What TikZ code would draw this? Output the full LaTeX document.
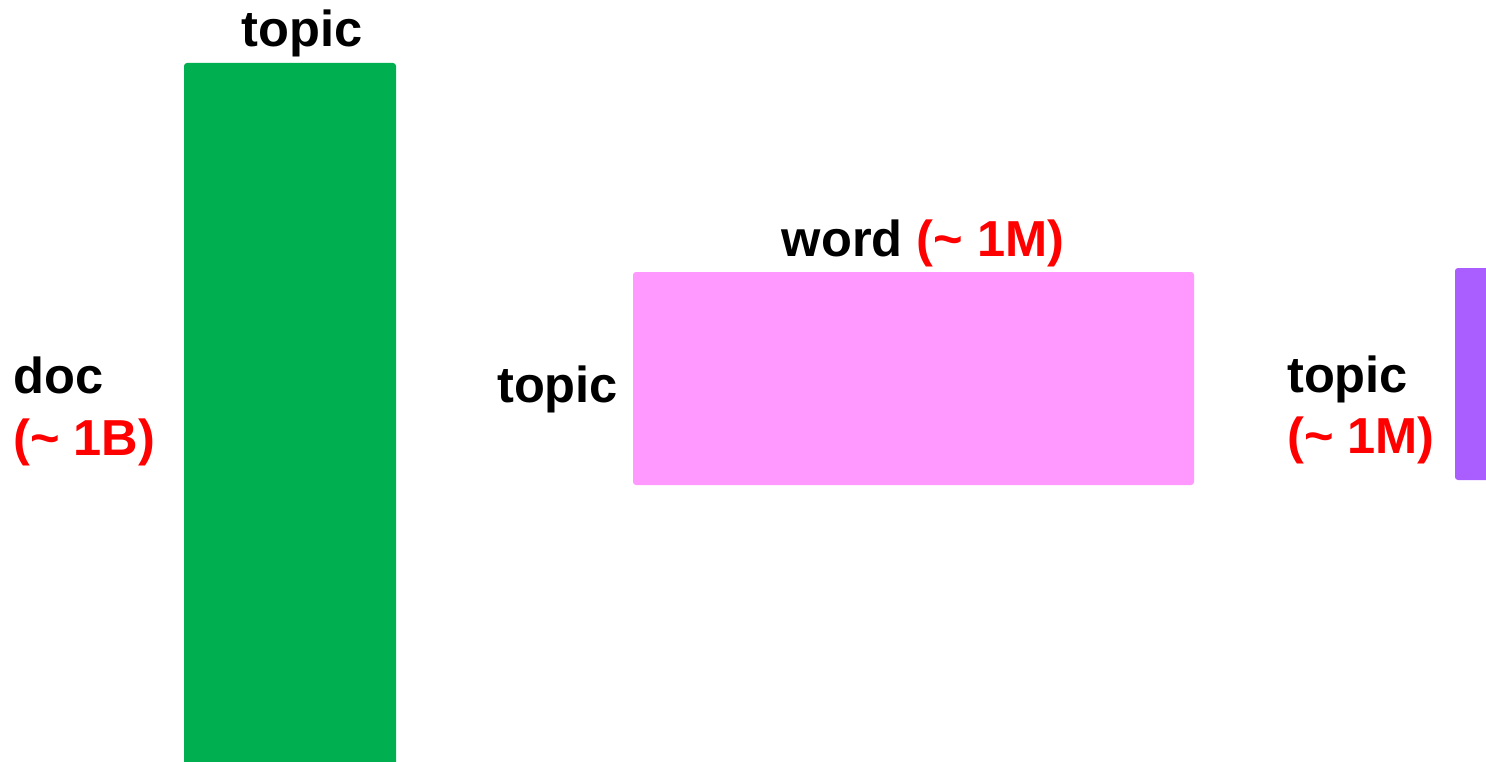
\documentclass[tikz,border=0pt]{standalone}
\usepackage{fontspec}
\setmainfont{Liberation Sans}
\begin{document}
\begin{tikzpicture}[x=1pt,y=-1pt,
  lbl/.style={inner sep=0pt,font=\fontsize{50.6}{60}\selectfont\bfseries,text=black},
  num/.style={text=red},
  matrixbox/.style={rounded corners=3pt,draw=none}]
\definecolor{docgreen}{RGB}{0,176,80}
\definecolor{wordpink}{RGB}{255,153,255}
\definecolor{topicviolet}{RGB}{170,94,255}
\clip (0,0) rectangle (1486,762);
\useasboundingbox (0,0) rectangle (1486,762);
% document-topic matrix
\fill[docgreen,matrixbox] (184,63) rectangle (396,800);
\node[lbl,anchor=base] (colA) at (302,47) {topic};
\node[lbl,anchor=base west] (rowA) at (13,393) {doc};
\node[lbl,num,anchor=base west] (rowAn) at (13,455) {(\char`\~{} 1B)};
% topic-word matrix
\fill[wordpink,matrixbox] (633,272) rectangle (1194,485);
\node[lbl,anchor=base] (colB) at (923,257) {word \textcolor{red}{(\char`\~{} 1M)}};
\node[lbl,anchor=base west] (rowB) at (497,402) {topic};
% topic vector
\fill[topicviolet,matrixbox] (1455,268) rectangle (1520,480);
\node[lbl,anchor=base west] (rowC) at (1287,392) {topic};
\node[lbl,num,anchor=base west] (rowCn) at (1287,453) {(\char`\~{} 1M)};
\end{tikzpicture}
\end{document}
